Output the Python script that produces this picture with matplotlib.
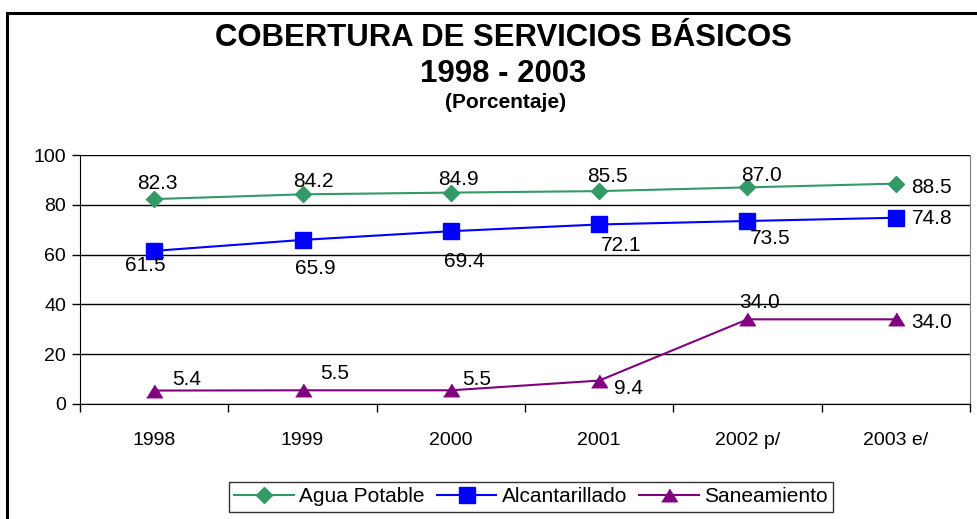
import matplotlib
matplotlib.use("Agg")
import matplotlib.pyplot as plt
from matplotlib.patches import Rectangle

plt.rcParams['font.family'] = ['Liberation Sans', 'DejaVu Sans']

categories = ["1998", "1999", "2000", "2001", "2002 p/", "2003 e/"]
agua = [82.3, 84.2, 84.9, 85.5, 87.0, 88.5]
alcant = [61.5, 65.9, 69.4, 72.1, 73.5, 74.8]
saneam = [5.4, 5.5, 5.5, 9.4, 34.0, 34.0]
series_names = ["Agua Potable", "Alcantarillado", "Saneamiento"]

# label offsets in pixels (dx, dy) relative to data point
agua_off = [(3, 16), (11, 13), (8, 13), (8, 15), (14, 12), (36, -4)]
alcant_off = [(-9, -15), (13, -29), (13, -30), (22, -21), (23, -18), (36, -1)]
saneam_off = [(32, 11), (32, 17), (26, 11), (29, -8), (12, 17), (36, -3)]

tri = [(-1, -0.8), (1, -0.8), (0, 0.8)]

fig = plt.figure(figsize=(9.77, 5.19), dpi=100)
fig.patch.set_facecolor('white')

# outer border (cut off at right/bottom)
fig.add_artist(Rectangle((7/977, -0.2), 1.2, (519-13)/519 + 0.2, transform=fig.transFigure,
                         fill=False, edgecolor='black', linewidth=2.2, clip_on=False))

ax = fig.add_axes([80/977, (519-404)/519, 890/977, 249/519])
x = list(range(len(categories)))

ax.plot(x, agua, color='#339966', marker='D', markersize=8.6, linewidth=1.5, label=series_names[0], zorder=3)
ax.plot(x, alcant, color='#0000FF', marker='s', markersize=11.3, linewidth=1.5, label=series_names[1], zorder=3)
ax.plot(x, saneam, color='#800080', marker=tri, markersize=11.3, linewidth=1.5, label=series_names[2], zorder=3)

for vals, offs in [(agua, agua_off), (alcant, alcant_off), (saneam, saneam_off)]:
    for xi, v, (dx, dy) in zip(x, vals, offs):
        ax.annotate(f"{v:.1f}", (xi, v), xytext=(dx, dy), textcoords='offset pixels',
                    ha='center', va='center', fontsize=15, color='black', zorder=4)

ax.set_xlim(-0.5, len(categories) - 0.5)
ax.set_ylim(0, 100)
ax.set_yticks([0, 20, 40, 60, 80, 100])
ax.yaxis.grid(True, color='black', linewidth=1.0)
ax.set_axisbelow(True)
ax.set_xticks(x)
ax.set_xticklabels(categories, fontsize=14)
ax.set_xticks([i + 0.5 for i in range(-1, len(categories))], minor=True)
ax.tick_params(axis='x', which='major', length=0, pad=20)
ax.tick_params(axis='x', which='minor', length=6, width=1, direction='out')
ax.tick_params(axis='y', labelsize=14, length=6, width=1, direction='out', pad=4)

ax.spines['top'].set_visible(False)
ax.spines['right'].set_color('#808080')
ax.spines['left'].set_color('black')
ax.spines['bottom'].set_color('black')

fig.text(503/977, 1 - 38/519, "COBERTURA DE SERVICIOS BÁSICOS", ha='center', va='center',
         fontsize=22.4, fontweight='bold')
fig.text(503/977, 1 - 74/519, "1998 - 2003", ha='center', va='center',
         fontsize=22.4, fontweight='bold')
fig.text(506/977, 1 - 103/519, "(Porcentaje)", ha='center', va='center',
         fontsize=15, fontweight='bold')

leg = fig.legend(loc='center', bbox_to_anchor=(531/977, 1 - 497/519), ncol=3, fontsize=15,
                 frameon=True, fancybox=False, edgecolor='black', handlelength=2.85,
                 columnspacing=0.6, handletextpad=0.25, borderpad=0.25, borderaxespad=0)
leg.get_frame().set_linewidth(1.0)

fig.savefig("out.png", dpi=100)
